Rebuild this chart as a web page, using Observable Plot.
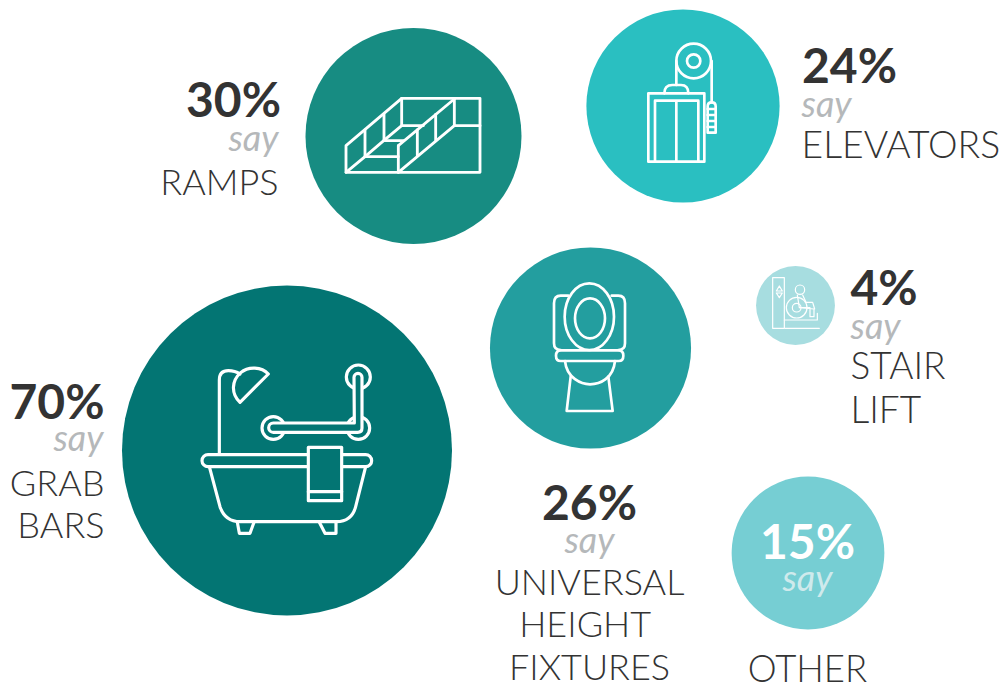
<!DOCTYPE html>
<html>
<head>
<meta charset="utf-8">
<script src="https://cdn.jsdelivr.net/npm/d3@7"></script>
<script src="https://cdn.jsdelivr.net/npm/@observablehq/plot@0.6"></script>
<style>
  html, body { margin: 0; padding: 0; background: #fff; overflow: hidden; }
  svg { display: block; }
</style>
</head>
<body>
<script>
// Survey answers
const features = ["grabBars", "ramps", "fixtures", "elevators", "other", "stairLift"];
const percents = [70, 30, 26, 24, 15, 4];
const labelLines = ["GRAB\nBARS", "RAMPS", "UNIVERSAL\nHEIGHT\u00a0\nFIXTURES", "ELEVATORS", "OTHER", "STAIR\nLIFT"];

// Free-form layout of the bubbles and of their captions
const bubbleX = [286.5, 413, 590, 682.5, 807.5, 795];
const bubbleY = [450, 135.5, 347.5, 105.5, 552.5, 305];
const bubbleFill = ["#037573", "#178c82", "#239e9f", "#2abfc1", "#76ced3", "#a7dde0"];

const captionAnchor = ["end", "end", "middle", "start", "middle", "start"];
const percentX = [104, 280.5, 589, 801.5, 807, 850];
const sayX = [103, 278, 589, 801, 807, 850];
const labelX = [104, 278, 589, 801, 807, 850];
const percentY = [384, 82, 485, 48.5, 524, 270.5];
const sayY = [424.5, 124.5, 527, 90.5, 565, 312.5];
const labelY = [465, 164, 564, 126, 651, 347.5];
const labelSize = [36, 36, 36, 37.3, 36.5, 37];
const percentFill = ["#333333", "#333333", "#333333", "#333333", "#ffffff", "#333333"];
const sayFill = ["#b5b8ba", "#b5b8ba", "#b5b8ba", "#b5b8ba", "#cfeaec", "#b5b8ba"];

const rows = features.map((feature, i) => ({
  feature,
  percent: percents[i],
  label: labelLines[i],
  x: bubbleX[i],
  y: bubbleY[i],
  fill: bubbleFill[i],
  anchor: captionAnchor[i],
  percentX: percentX[i],
  sayX: sayX[i],
  labelX: labelX[i],
  percentY: percentY[i],
  sayY: sayY[i],
  labelY: labelY[i],
  labelSize: labelSize[i],
  percentFill: percentFill[i],
  sayFill: sayFill[i]
}));

// Pictograms, drawn at 3 units per pixel around an origin set relative to each bubble
const pictograms = {
  grabBars: {
    dx: -96.5, dy: -100, width: 9.5,
    shapes: [
      {d: "M88,312 L88,90 Q88,62 115,62 Q135,62 150,72"},
      {d: "M150,157 L235,72 C215,50 175,48 152,68 C125,92 122,130 150,157 Z"},
      {d: "M250,200 A34,34 0 1 0 250,268 A34,34 0 1 0 250,200 Z"},
      {d: "M505,45 A36,36 0 1 0 505,117 A36,36 0 1 0 505,45 Z"},
      {d: "M505,200 A34,34 0 1 0 505,268 A34,34 0 1 0 505,200 Z"},
      {d: "M493,219 L250,219 A14,14 0 0 0 250,247 L503,247 Q516,247 516,234 L516,82 A12,12 0 0 0 492,82 Z", fill: true},
      {d: "M54,314 L527,314 A18,18 0 0 1 527,350 L54,350 A18,18 0 0 1 54,314 Z"},
      {d: "M58,350 L90,470 Q105,515 150,515 L440,515 Q485,515 497,470 L527,350"},
      {d: "M142,517 L148,550 L180,550 L192,517"},
      {d: "M388,517 L405,550 L438,550 L438,517"},
      {d: "M355,292 L455,292 L455,452 L355,452 Z", fill: true},
      {d: "M355,425 L455,425"}
    ]
  },
  ramps: {
    dx: -78, dy: -50.5, width: 8.5,
    shapes: [
      {d: "M33,262 L435,262 L435,40 L200,40 L33,182 Z"},
      {d: "M358,122 L435,122"},
      {d: "M90,135 L90,215 M147,88 L147,165 M200,40 L200,122"},
      {d: "M33,262 L90,215 L147,166 L200,122 L265,122"},
      {d: "M90,215 L190,215 M147,167 L205,167"},
      {d: "M190,262 L358,122 M190,182 L358,42"},
      {d: "M190,182 L190,262 M247,135 L247,212 M302,88 L302,165 M358,42 L358,122"}
    ]
  },
  fixtures: {
    dx: -50, dy: -72.5, width: 8,
    shapes: [
      {d: "M85,62 L62,62 Q42,62 42,85 L42,205 Q42,225 62,225"},
      {d: "M215,62 L235,62 Q255,62 255,85 L255,205 Q255,225 235,225"},
      {d: "M148,25 A74,100 0 1 0 148,225 A74,100 0 1 0 148,25 Z", fill: true},
      {d: "M150,70 A45,60 0 1 0 150,190 A45,60 0 1 0 150,70 Z"},
      {d: "M62,226 L236,226 Q250,226 250,242 Q250,258 236,258 L62,258 Q48,258 48,242 Q48,226 62,226 Z"},
      {d: "M75,258 C80,310 125,328 150,328 C180,328 220,310 225,258"},
      {d: "M92,305 L80,408 L218,408 L205,305"}
    ]
  },
  elevators: {
    dx: -47.5, dy: -70.5, width: 8,
    shapes: [
      {d: "M40,175 L208,175 L208,380 L40,380 Z"},
      {d: "M60,380 L60,197 L190,197 L190,380 M124,197 L124,380"},
      {d: "M88,175 Q88,150 112,150 L138,150 Q160,150 160,175"},
      {d: "M176,26 A52,52 0 1 0 176,130 A52,52 0 1 0 176,26 Z"},
      {d: "M176,58 A20,20 0 1 0 176,98 A20,20 0 1 0 176,58 Z"},
      {d: "M124,78 L124,150 M230,78 L230,202"},
      {d: "M230,202 Q242,202 242,214 L242,293 L218,293 L218,214 Q218,202 230,202 Z"},
      {d: "M218,222 L242,222 M218,240 L242,240 M218,258 L242,258 M218,276 L242,276"}
    ]
  },
  stairLift: {
    dx: -35, dy: -40, width: 3.6,
    shapes: [
      {d: "M38,38 L73,38 L73,190 L38,190 Z"},
      {d: "M58,63 L49,78 L67,78 Z M58,98 L49,84 L67,84 Z"},
      {d: "M120,60 A14,14 0 1 0 120,88 A14,14 0 1 0 120,60 Z"},
      {d: "M110,97 A31,31 0 1 0 110,159 A31,31 0 1 0 110,97 Z"},
      {d: "M110,115 A13,13 0 1 0 110,141 A13,13 0 1 0 110,115 Z"},
      {d: "M112,90 L118,128 M128,90 L138,112 L158,112 L164,132 M118,128 L150,128 L150,155 L162,155 L162,132 Z"},
      {d: "M73,165 L172,165 L172,145 M75,190 L178,190"}
    ]
  }
};

// Custom Plot mark: places each pictogram at its bubble through the position scales
function pictogramMark() {
  return (index, {x, y}) => {
    const layer = d3.create("svg:g").attr("fill", "none").attr("stroke", "#fff")
      .attr("stroke-linejoin", "round").attr("stroke-linecap", "round");
    rows.filter(row => pictograms[row.feature]).forEach(row => {
      const glyph = pictograms[row.feature];
      const g = layer.append("g")
        .attr("transform", `translate(${x(row.x) + glyph.dx},${y(row.y) + glyph.dy}) scale(${1 / 3})`)
        .attr("stroke-width", glyph.width);
      glyph.shapes.forEach(shape => {
        g.append("path").attr("d", shape.d).attr("fill", shape.fill ? row.fill : "none");
      });
    });
    return layer.node();
  };
}

// textAnchor takes a constant, so captions are split by alignment
const captions = anchor => rows.filter(d => d.anchor === anchor);
const captionMarks = ["start", "middle", "end"].flatMap(anchor => [
  Plot.text(captions(anchor), {
    x: "percentX", y: "percentY", text: d => `${d.percent}%`, fill: "percentFill",
    textAnchor: anchor, lineAnchor: "top",
    fontFamily: "Lato", fontWeight: 700, fontSize: 48
  }),
  Plot.text(captions(anchor), {
    x: "sayX", y: "sayY", text: () => "say", fill: "sayFill",
    textAnchor: anchor, lineAnchor: "top",
    fontFamily: "Lato", fontStyle: "italic", fontSize: 36
  }),
  Plot.text(captions(anchor), {
    x: "labelX", y: "labelY", text: "label", fill: "#333333",
    textAnchor: anchor, lineAnchor: "top", lineHeight: 1.18,
    fontFamily: "Lato", fontWeight: 300, fontSize: d => d.labelSize
  })
]);

const chart = Plot.plot({
  width: 1005,
  height: 684,
  margin: 0,
  x: {type: "linear", domain: [0, 1005], range: [0, 1005], axis: null},
  y: {type: "linear", domain: [0, 684], range: [0, 684], axis: null},
  r: {type: "sqrt", domain: [0, 70], range: [0, 165]},
  color: {type: "identity"},
  style: {background: "transparent"},
  marks: [
    Plot.dot(rows, {x: "x", y: "y", r: "percent", fill: "fill", stroke: null}),
    pictogramMark(),
    ...captionMarks
  ]
});
document.body.append(chart);
</script>
</body>
</html>
